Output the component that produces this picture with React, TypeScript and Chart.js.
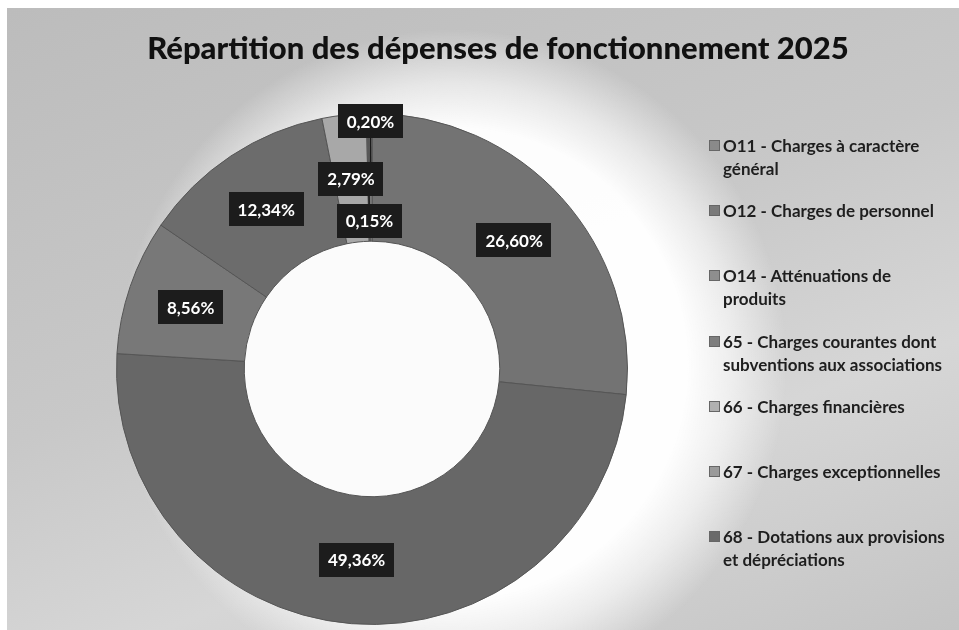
import React, { useEffect, useRef } from "react";
import { Chart, registerables } from "chart.js";

Chart.register(...registerables);

// ---------- data ----------
const chartTitle = "Répartition des dépenses de fonctionnement 2025";
const categories: string[][] = [
  ["O11 - Charges à caractère", "général"],
  ["O12 - Charges de personnel"],
  ["O14 - Atténuations de", "produits"],
  ["65 - Charges courantes dont", "subventions aux associations"],
  ["66 - Charges financières"],
  ["67 - Charges exceptionnelles"],
  ["68 -  Dotations aux provisions", "et dépréciations"],
];
const values = [26.6, 49.36, 8.56, 12.34, 2.79, 0.15, 0.2];
const valueLabels = values.map((v) => v.toFixed(2).replace(".", ",") + "%");

// ---------- styles ----------
const sliceColors = ["#737373", "#676767", "#787878", "#6c6c6c", "#a8a8a8", "#5a5a5a", "#8c8c8c"];
const legendColors = ["#8a8a8a", "#7a7a7a", "#8e8e8e", "#7e7e7e", "#b0b0b0", "#9a9a9a", "#6a6a6a"];
// radial position of each value label inside the ring (0 inner edge, 1 outer edge)
const labelRingPos = [0.5, 0.5, 0.5, 0.5, 0.5, 0.16, 0.94];
const FONT = "Lato, 'Open Sans', sans-serif";

const decorPlugin = {
  id: "decor",
  beforeDatasetsDraw(chart: any) {
    const meta = chart.getDatasetMeta(0);
    const arc = meta.data[0];
    if (!arc) return;
    const { x, y, innerRadius, outerRadius } = arc.getProps(["x", "y", "innerRadius", "outerRadius"], true);
    const ctx = chart.ctx;
    ctx.save();
    // soft light halo, stronger on the right of the ring
    const hx = x + 80;
    const hy = y - 5;
    const g = ctx.createRadialGradient(hx, hy, outerRadius - 20, hx, hy, outerRadius + 80);
    g.addColorStop(0, "rgba(255,255,255,0.97)");
    g.addColorStop(0.45, "rgba(255,255,255,0.6)");
    g.addColorStop(1, "rgba(255,255,255,0)");
    ctx.fillStyle = g;
    ctx.beginPath();
    ctx.arc(hx, hy, outerRadius + 80, 0, Math.PI * 2);
    ctx.fill();
    // white hole
    ctx.fillStyle = "#fbfbfb";
    ctx.beginPath();
    ctx.arc(x, y, innerRadius + 2, 0, Math.PI * 2);
    ctx.fill();
    ctx.restore();
  },
  afterDatasetsDraw(chart: any) {
    const meta = chart.getDatasetMeta(0);
    const ctx = chart.ctx;
    const pts = meta.data.map((el: any, i: number) => {
      const p = el.getProps(["x", "y", "startAngle", "endAngle", "innerRadius", "outerRadius"], true);
      const mid = (p.startAngle + p.endAngle) / 2;
      const rMid = p.innerRadius + (p.outerRadius - p.innerRadius) * 0.5;
      const r = p.innerRadius + (p.outerRadius - p.innerRadius) * labelRingPos[i];
      return {
        ax: p.x + Math.cos(mid) * rMid,
        ay: p.y + Math.sin(mid) * rMid,
        lx: p.x + Math.cos(mid) * r,
        ly: p.y + Math.sin(mid) * r,
        moved: labelRingPos[i] !== 0.5,
      };
    });
    ctx.save();
    // leader lines
    ctx.strokeStyle = "#1a1a1a";
    ctx.lineWidth = 1.5;
    pts.forEach((p: any) => {
      if (!p.moved) return;
      ctx.beginPath();
      ctx.moveTo(p.lx, p.ly);
      ctx.lineTo(p.ax, p.ay);
      ctx.stroke();
    });
    ctx.font = `bold 17px ${FONT}`;
    ctx.textAlign = "center";
    ctx.textBaseline = "middle";
    pts.forEach((p: any, i: number) => {
      const t = valueLabels[i];
      const w = ctx.measureText(t).width + 18;
      const h = 34;
      ctx.fillStyle = "#1c1c1c";
      ctx.fillRect(Math.round(p.lx - w / 2), Math.round(p.ly - h / 2), Math.round(w), h);
      ctx.fillStyle = "#ffffff";
      ctx.fillText(t, p.lx, p.ly + 1);
    });
    ctx.restore();
  },
};

export default function App() {
  const canvasRef = useRef<HTMLCanvasElement | null>(null);

  useEffect(() => {
    if (!canvasRef.current) return;
    const chart = new Chart(canvasRef.current, {
      type: "doughnut",
      data: {
        labels: categories,
        datasets: [
          {
            data: values,
            backgroundColor: sliceColors,
            borderColor: "#555555",
            borderWidth: 1,
          },
        ],
      },
      options: {
        responsive: false,
        devicePixelRatio: 1,
        animation: false,
        cutout: "50%",
        layout: { padding: { left: 109, right: 331, top: 105, bottom: 5 } },
        plugins: {
          legend: { display: false },
          tooltip: { enabled: false },
          title: { display: false },
        },
      },
      plugins: [decorPlugin],
    });
    return () => chart.destroy();
  }, []);

  return (
    <div
      style={{
        position: "fixed",
        left: 7,
        top: 8,
        width: 952,
        height: 622,
        overflow: "hidden",
        background: "linear-gradient(160deg, #bcbcbc 0%, #c8c8c8 45%, #d6d6d6 70%, #c4c4c4 100%)",
        fontFamily: FONT,
      }}
    >
      <canvas ref={canvasRef} width={952} height={622} style={{ position: "absolute", left: 0, top: 0 }} />
      <div
        style={{
          position: "absolute",
          left: 91,
          width: 800,
          top: 20,
          textAlign: "center",
          fontSize: 31,
          lineHeight: "38px",
          fontWeight: 900,
          color: "#111",
          whiteSpace: "nowrap",
        }}
      >
        {chartTitle}
      </div>
      <div style={{ position: "absolute", left: 702, top: 126, width: 250 }}>
        {categories.map((lines, i) => (
          <div key={i} style={{ height: 65.2, position: "relative" }}>
            <div
              style={{
                position: "absolute",
                left: 0,
                top: 6,
                width: 11,
                height: 11,
                background: legendColors[i],
                border: "1px solid #666",
                boxSizing: "border-box",
              }}
            />
            <div
              style={{
                position: "absolute",
                left: 14,
                top: 0,
                fontSize: 17,
                lineHeight: "23px",
                fontWeight: 700,
                color: "#1e1e1e",
                whiteSpace: "nowrap",
              }}
            >
              {lines.map((l, j) => (
                <div key={j}>{l}</div>
              ))}
            </div>
          </div>
        ))}
      </div>
    </div>
  );
}
